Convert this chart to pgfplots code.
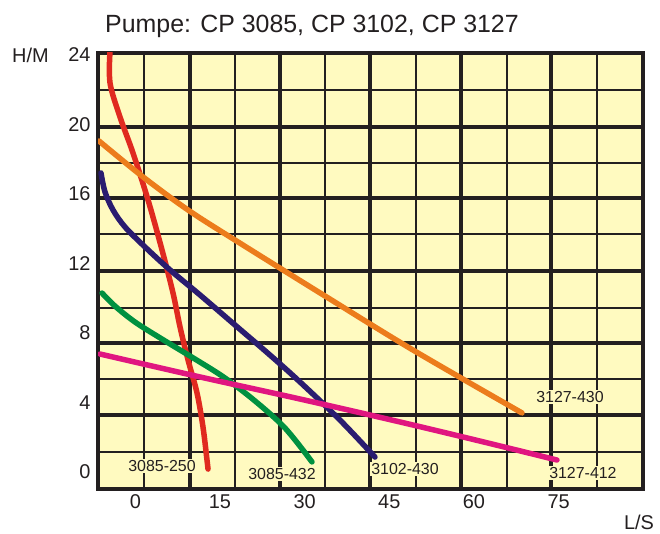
\documentclass[border=0pt]{standalone}
\usepackage{fontspec}
\setmainfont{Liberation Sans}
\usepackage{pgfplots}
\pgfplotsset{compat=1.18}
\definecolor{bgy}{RGB}{255,250,192}
\definecolor{gridc}{RGB}{35,31,32}
\definecolor{cred}{RGB}{224,42,32}
\definecolor{corange}{RGB}{236,124,28}
\definecolor{cnavy}{RGB}{42,28,112}
\definecolor{cgreen}{RGB}{0,145,64}
\definecolor{cpink}{RGB}{224,22,128}
\begin{document}
\begin{tikzpicture}
\useasboundingbox (0,0) rectangle (660bp,534bp);
\begin{axis}[
 at={(98bp,45bp)}, anchor=south west,
 scale only axis, width=545bp, height=436bp,
 xmin=-6.61, xmax=89.94, ymin=-0.978, ymax=24.115,
 axis background/.style={fill=bgy},
 axis line style={gridc, line width=4bp},
 xtick={0,15,...,90}, ytick={0,4,...,24},
 major tick length=0pt, minor tick length=0pt,
 minor xtick={1.54,17.66,33.6,49.72,65.84,81.78},
 minor ytick={21.99,17.78,13.70,9.44,5.35,1.15},
 xminorgrids=true, yminorgrids=true,
 minor grid style={gridc, line width=2.2bp},
 extra x ticks={9.69,25.63,41.57,57.69,73.63},
 extra y ticks={19.86,15.77,11.57,7.42,3.28},
 extra x tick labels={}, extra y tick labels={},
 extra x tick style={grid=major, major grid style={gridc, line width=3.5bp}, major tick length=0pt},
 extra y tick style={grid=major, major grid style={gridc, line width=3.5bp}, major tick length=0pt},
 ticklabel style={font=\fontsize{20}{24}\selectfont, text=gridc},
 /pgf/number format/assume math mode=true,
 xticklabel style={yshift=-2bp},
 yticklabel style={xshift=-4bp},
 every axis plot/.append style={line width=5.5bp, smooth, tension=0.55, line cap=round, line join=round},
]
% 3085-250
\addplot[cred] coordinates {(-4.48,24.2) (-4.48,22.39) (-2.71,20.43) (-0.41,18.36) (2.25,15.66) (4.73,12.78) (6.68,10.30) (7.92,8.35) (9.34,6.45) (10.93,4.55) (11.99,2.59) (12.7,0.69) (12.88,0.17)};
% 3127-430
\addplot[corange] coordinates {(-6.43,19.05) (1.38,16.98) (9.34,15.08) (17.66,13.35) (33.6,10.13) (49.19,7.02) (68.5,3.40)};
% 3102-430
\addplot[cnavy] coordinates {(-6.08,17.21) (-5.37,16.12) (-3.95,15.08) (-1.82,14.10) (1.72,12.95) (6.15,11.63) (11.46,10.19) (17.66,8.46) (23.86,6.73) (29.18,5.18) (36.26,2.99) (42.46,0.86)};
% 3085-432
\addplot[cgreen] coordinates {(-5.90,10.30) (-3.60,9.55) (-0.05,8.63) (4.73,7.65) (10.58,6.50) (15.89,5.41) (21.20,4.09) (26.52,2.53) (31.30,0.58)};
% 3127-412
\addplot[cpink] coordinates {(-6.25,6.79) (11.46,5.47) (29.18,4.20) (46.89,2.88) (61.06,1.78) (74.7,0.69)};
\tikzset{cl/.style={fill=bgy, inner sep=1.5bp, text=gridc, font=\fontsize{16}{19}\selectfont}}
\node[cl] at (axis cs:4.73,0.35) {3085-250};
\node[cl] at (axis cs:25.99,-0.12) {3085-432};
\node[cl] at (axis cs:47.78,0.17) {3102-430};
\node[cl] at (axis cs:77.0,4.32) {3127-430};
\node[cl] at (axis cs:79.3,-0.06) {3127-412};
\end{axis}
\node[anchor=base, text=gridc, font=\fontsize{25}{30}\selectfont] at (312bp,501bp) {Pumpe: CP 3085, CP 3102, CP 3127};
\node[anchor=west, inner sep=0pt, text=gridc, font=\fontsize{20}{24}\selectfont] at (12bp,479bp) {H/M};
\node[inner sep=0pt, text=gridc, font=\fontsize{20}{24}\selectfont] at (639bp,12bp) {L/S};
\end{tikzpicture}
\end{document}
